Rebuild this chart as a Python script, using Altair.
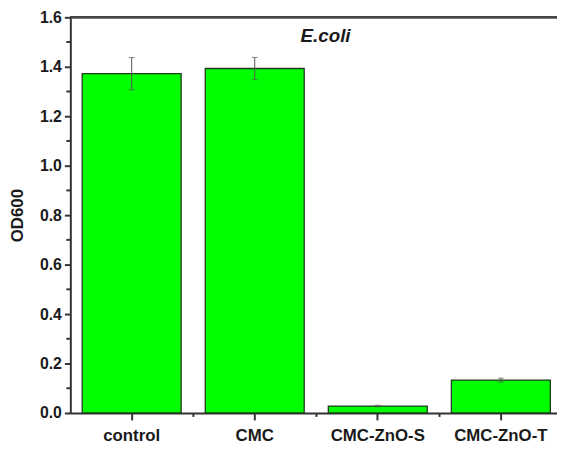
import altair as alt
import pandas as pd

categories = ["control", "CMC", "CMC-ZnO-S", "CMC-ZnO-T"]
means = [1.372, 1.393, 0.028, 0.133]
errors = [0.065, 0.045, 0.003, 0.008]
y_major = [0.0, 0.2, 0.4, 0.6, 0.8, 1.0, 1.2, 1.4, 1.6]
y_minor = [0.1, 0.3, 0.5, 0.7, 0.9, 1.1, 1.3, 1.5]
x_minor = ["CMC", "CMC-ZnO-S", "CMC-ZnO-T"]

df = pd.DataFrame({
    "cat": categories,
    "mean": means,
    "lo": [m - e for m, e in zip(means, errors)],
    "hi": [m + e for m, e in zip(means, errors)],
})

FONT = "Liberation Sans"
W, H = 492, 400

xscale = alt.Scale(domain=categories, paddingInner=0.196, paddingOuter=0.0755, align=0.64)
yscale = alt.Scale(domain=[0, 1.6], nice=False, zero=True)

x_enc = alt.X("cat:N", scale=xscale, sort=categories, title=None,
              axis=alt.Axis(labelAngle=0, labelFont=FONT, labelFontSize=17, labelFontWeight="bold",
                            labelColor="#1a1a1a", labelPadding=8, tickSize=7, tickWidth=2,
                            tickColor="#333333", domainColor="#333333", domainWidth=2,
                            grid=False))
y_enc = alt.Y("mean:Q", scale=yscale,
              axis=alt.Axis(values=y_major, format=".1f", labelFont=FONT, labelFontSize=16,
                            labelFontWeight="bold", labelColor="#1a1a1a", labelPadding=3,
                            tickSize=6, tickWidth=2, tickColor="#333333",
                            domainColor="#333333", domainWidth=2, grid=False,
                            title="OD600", titleFont=FONT, titleFontSize=17, titleFontWeight="bold",
                            titleColor="#1a1a1a", titleAngle=-90, titleX=-53, titleY=200,
                            titleAlign="center", titleBaseline="middle"))

base = alt.Chart(df)

bars = base.mark_bar(color="#00ff00", stroke="#1f3a1f", strokeWidth=1.3).encode(
    x=x_enc, y=y_enc
)

err = base.mark_rule(color="#555555", strokeWidth=1).encode(
    x=alt.X("cat:N", scale=xscale, sort=categories),
    y=alt.Y("lo:Q", scale=yscale),
    y2="hi:Q",
)
cap_hi = base.mark_tick(color="#555555", size=6, thickness=1).encode(
    x=alt.X("cat:N", scale=xscale, sort=categories),
    y=alt.Y("hi:Q", scale=yscale),
)
cap_lo = base.mark_tick(color="#555555", size=6, thickness=1).encode(
    x=alt.X("cat:N", scale=xscale, sort=categories),
    y=alt.Y("lo:Q", scale=yscale),
)

ymin_df = pd.DataFrame({"v": y_minor})
yminor = alt.Chart(ymin_df).mark_rule(color="#333333", strokeWidth=2).encode(
    y=alt.Y("v:Q", scale=yscale),
    x=alt.value(0),
    x2=alt.value(-4),
)

xmin_df = pd.DataFrame({"c": x_minor})
xminor = alt.Chart(xmin_df).mark_rule(color="#333333", strokeWidth=2, xOffset=-12).encode(
    x=alt.X("c:N", scale=xscale, sort=categories, bandPosition=0),
    y=alt.value(H),
    y2=alt.value(H + 4),
)

top = alt.Chart(df).mark_rule(color="#444444", strokeWidth=2).encode(
    x=alt.value(0), x2=alt.value(W), y=alt.value(0)
)

label = alt.Chart(pd.DataFrame({"t": ["E.coli"]})).mark_text(
    font=FONT, fontSize=19, fontWeight="bold", fontStyle="italic", color="#1a1a1a",
    align="center", baseline="alphabetic"
).encode(text="t:N", x=alt.value(258), y=alt.value(25))

chart = alt.layer(bars, err, cap_hi, cap_lo, yminor, xminor, top, label).properties(
    width=W, height=H,
    autosize=alt.AutoSizeParams(type="none"),
    padding={"left": 63, "top": 7, "right": 0, "bottom": 34},
).configure_view(stroke=None).configure(background="white")

chart.save("out.html", embed_options={"renderer": "svg", "actions": False})
